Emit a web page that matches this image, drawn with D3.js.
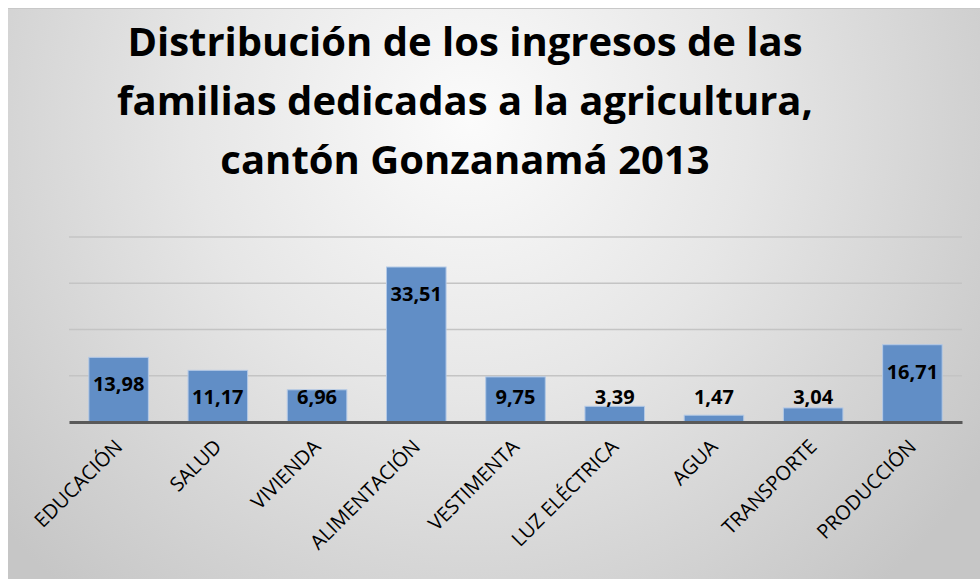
<!DOCTYPE html>
<meta charset="utf-8">
<head>
    <script src="https://d3js.org/d3.v7.min.js"></script>
    <style>
        body { margin: 0; background: #ffffff; }
        svg text { font-family: "Open Sans", "Noto Sans", sans-serif; }
    </style>
</head>
<body>
    <div class="viz"></div>
    <script>
        var width = 980,
            height = 579;

        // data
        var categories = ["EDUCACIÓN", "SALUD", "VIVIENDA", "ALIMENTACIÓN", "VESTIMENTA",
                          "LUZ ELÉCTRICA", "AGUA", "TRANSPORTE", "PRODUCCIÓN"];
        var values = [13.98, 11.17, 6.96, 33.51, 9.75, 3.39, 1.47, 3.04, 16.71];
        var gridTicks = [10, 20, 30, 40];
        var titleLines = ["Distribución de los ingresos de las",
                          "familias dedicadas a la agricultura,",
                          "cantón Gonzanamá 2013"];

        var plot = {left: 69, right: 962, top: 237, bottom: 422};

        var svg = d3.select("div.viz").append("svg")
            .attr("width", width)
            .attr("height", height);

        // soft grey background like the office chart area
        var grad = svg.append("defs").append("radialGradient")
            .attr("id", "bg")
            .attr("gradientUnits", "userSpaceOnUse")
            .attr("cx", 470).attr("cy", 120).attr("r", 620);
        grad.append("stop").attr("offset", "0%").attr("stop-color", "#fbfbfb");
        grad.append("stop").attr("offset", "45%").attr("stop-color", "#e6e6e6");
        grad.append("stop").attr("offset", "100%").attr("stop-color", "#c6c6c6");

        svg.append("rect")
            .attr("x", 8).attr("y", 8)
            .attr("width", width - 8).attr("height", height - 8)
            .style("fill", "url(#bg)");
        svg.append("line")
            .attr("x1", 8).attr("x2", width)
            .attr("y1", 8.5).attr("y2", 8.5)
            .style("stroke", "#c8c8c8");

        var x = d3.scaleBand()
            .domain(categories)
            .range([plot.left, plot.right])
            .paddingInner(0.4)
            .paddingOuter(0.2);

        var y = d3.scaleLinear()
            .domain([0, 40])
            .range([plot.bottom, plot.top]);

        // gridlines
        svg.append("g")
            .selectAll("line")
            .data(gridTicks)
            .enter().append("line")
            .attr("x1", plot.left).attr("x2", plot.right)
            .attr("y1", function(d) { return y(d); })
            .attr("y2", function(d) { return y(d); })
            .style("stroke", "#c4c4c4")
            .style("stroke-width", 1.5);

        // bars
        svg.append("g")
            .selectAll("rect")
            .data(values)
            .enter().append("rect")
            .attr("x", function(d, i) { return x(categories[i]); })
            .attr("y", function(d) { return y(d); })
            .attr("width", x.bandwidth())
            .attr("height", function(d) { return y(0) - y(d); })
            .style("fill", "#618ec6")
            .style("stroke", "#b3c9e6")
            .style("stroke-width", 1);

        // axis line
        var xAxis = d3.axisBottom(x).tickSize(0).tickFormat("");
        svg.append("g")
            .attr("transform", "translate(0," + y(0) + ")")
            .call(xAxis)
            .select(".domain")
            .style("stroke", "#595959")
            .style("stroke-width", 3);

        // value labels, inside the top of the bar or just above the axis
        svg.append("g")
            .selectAll("text")
            .data(values)
            .enter().append("text")
            .attr("x", function(d, i) { return x(categories[i]) + x.bandwidth() / 2; })
            .attr("y", function(d) { return Math.min(y(d) + 27, y(0) - 25); })
            .attr("dy", "0.35em")
            .attr("text-anchor", "middle")
            .style("font-size", "20px")
            .style("font-weight", "bold")
            .style("fill", "#000")
            .text(function(d) { return d.toFixed(2).replace(".", ","); });

        // category labels rotated
        svg.append("g")
            .selectAll("text")
            .data(categories)
            .enter().append("text")
            .attr("transform", function(d) {
                return "translate(" + (x(d) + x.bandwidth() / 2 + 5) + "," + (y(0) + 26) + ") rotate(-45)";
            })
            .attr("text-anchor", "end")
            .style("font-size", "20px")
            .style("fill", "#000")
            .text(function(d) { return d; });

        // title
        svg.append("g")
            .selectAll("text")
            .data(titleLines)
            .enter().append("text")
            .attr("x", 465)
            .attr("y", function(d, i) { return 56 + i * 59; })
            .attr("text-anchor", "middle")
            .style("font-size", "40px")
            .style("font-weight", "bold")
            .style("fill", "#000")
            .text(function(d) { return d; });
    </script>
</body>
